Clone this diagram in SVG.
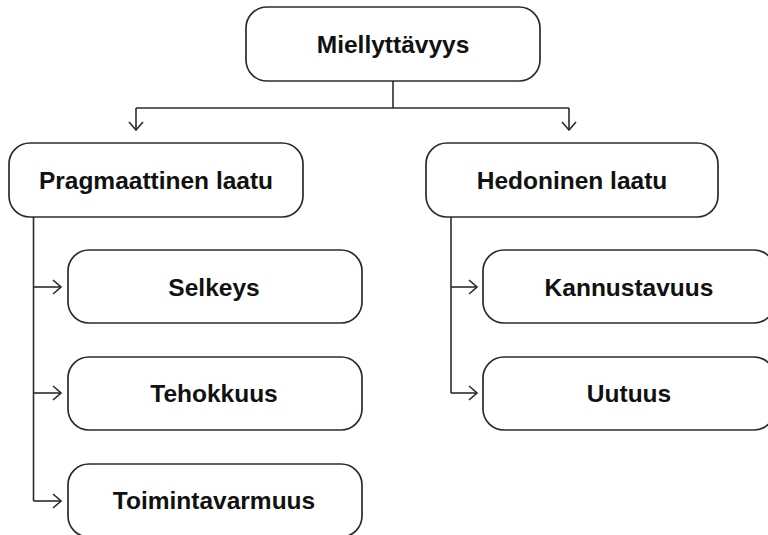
<svg xmlns="http://www.w3.org/2000/svg" width="768" height="535" viewBox="0 0 768 535">
  <style>
    .box { fill: #ffffff; stroke: #2b2b2b; stroke-width: 1.7; }
    .label { font-family: "Liberation Sans", Arial, sans-serif; font-weight: bold; font-size: 24.5px; fill: #111111; text-anchor: middle; }
    .edge { fill: none; stroke: #2b2b2b; stroke-width: 1.6; }
  </style>
  <defs>
    <marker id="arrow" viewBox="0 0 10 16" refX="9" refY="8" markerWidth="10" markerHeight="16" markerUnits="userSpaceOnUse" orient="auto">
      <path d="M1,1 L9,8 L1,15" fill="none" stroke="#2b2b2b" stroke-width="1.6"/>
    </marker>
  </defs>
  <rect width="768" height="535" fill="#ffffff"/>

  <g id="connectors">
    <!-- root to the two quality branches -->
    <path class="edge" d="M393,81 V108"/>
    <path class="edge" d="M136,108 H569"/>
    <path class="edge" d="M136,108 V130" marker-end="url(#arrow)"/>
    <path class="edge" d="M569,108 V130" marker-end="url(#arrow)"/>
    <!-- pragmatic branch -->
    <path class="edge" d="M33.5,217 V501"/>
    <path class="edge" d="M33.5,287 H61" marker-end="url(#arrow)"/>
    <path class="edge" d="M33.5,393 H61" marker-end="url(#arrow)"/>
    <path class="edge" d="M33.5,501 H61" marker-end="url(#arrow)"/>
    <!-- hedonic branch -->
    <path class="edge" d="M451,217 V393"/>
    <path class="edge" d="M451,287 H477" marker-end="url(#arrow)"/>
    <path class="edge" d="M451,393 H477" marker-end="url(#arrow)"/>
  </g>

  <g id="miellyttavyys">
    <rect class="box" x="246" y="7" width="294" height="74" rx="21"/>
    <text class="label" x="393" y="53">Miellyttävyys</text>
  </g>
  <g id="pragmaattinen">
    <rect class="box" x="9" y="143" width="294" height="74" rx="21"/>
    <text class="label" x="156" y="189">Pragmaattinen laatu</text>
  </g>
  <g id="hedoninen">
    <rect class="box" x="426" y="143" width="292" height="74" rx="21"/>
    <text class="label" x="572" y="189">Hedoninen laatu</text>
  </g>
  <g id="selkeys">
    <rect class="box" x="68" y="250" width="294" height="73" rx="21"/>
    <text class="label" x="214" y="296">Selkeys</text>
  </g>
  <g id="tehokkuus">
    <rect class="box" x="68" y="357" width="294" height="73" rx="21"/>
    <text class="label" x="214" y="402">Tehokkuus</text>
  </g>
  <g id="toimintavarmuus">
    <rect class="box" x="68" y="464" width="294" height="73" rx="21"/>
    <text class="label" x="214" y="509">Toimintavarmuus</text>
  </g>
  <g id="kannustavuus">
    <rect class="box" x="483" y="250" width="292" height="73" rx="21"/>
    <text class="label" x="629" y="296">Kannustavuus</text>
  </g>
  <g id="uutuus">
    <rect class="box" x="483" y="357" width="292" height="73" rx="21"/>
    <text class="label" x="629" y="402">Uutuus</text>
  </g>
</svg>
